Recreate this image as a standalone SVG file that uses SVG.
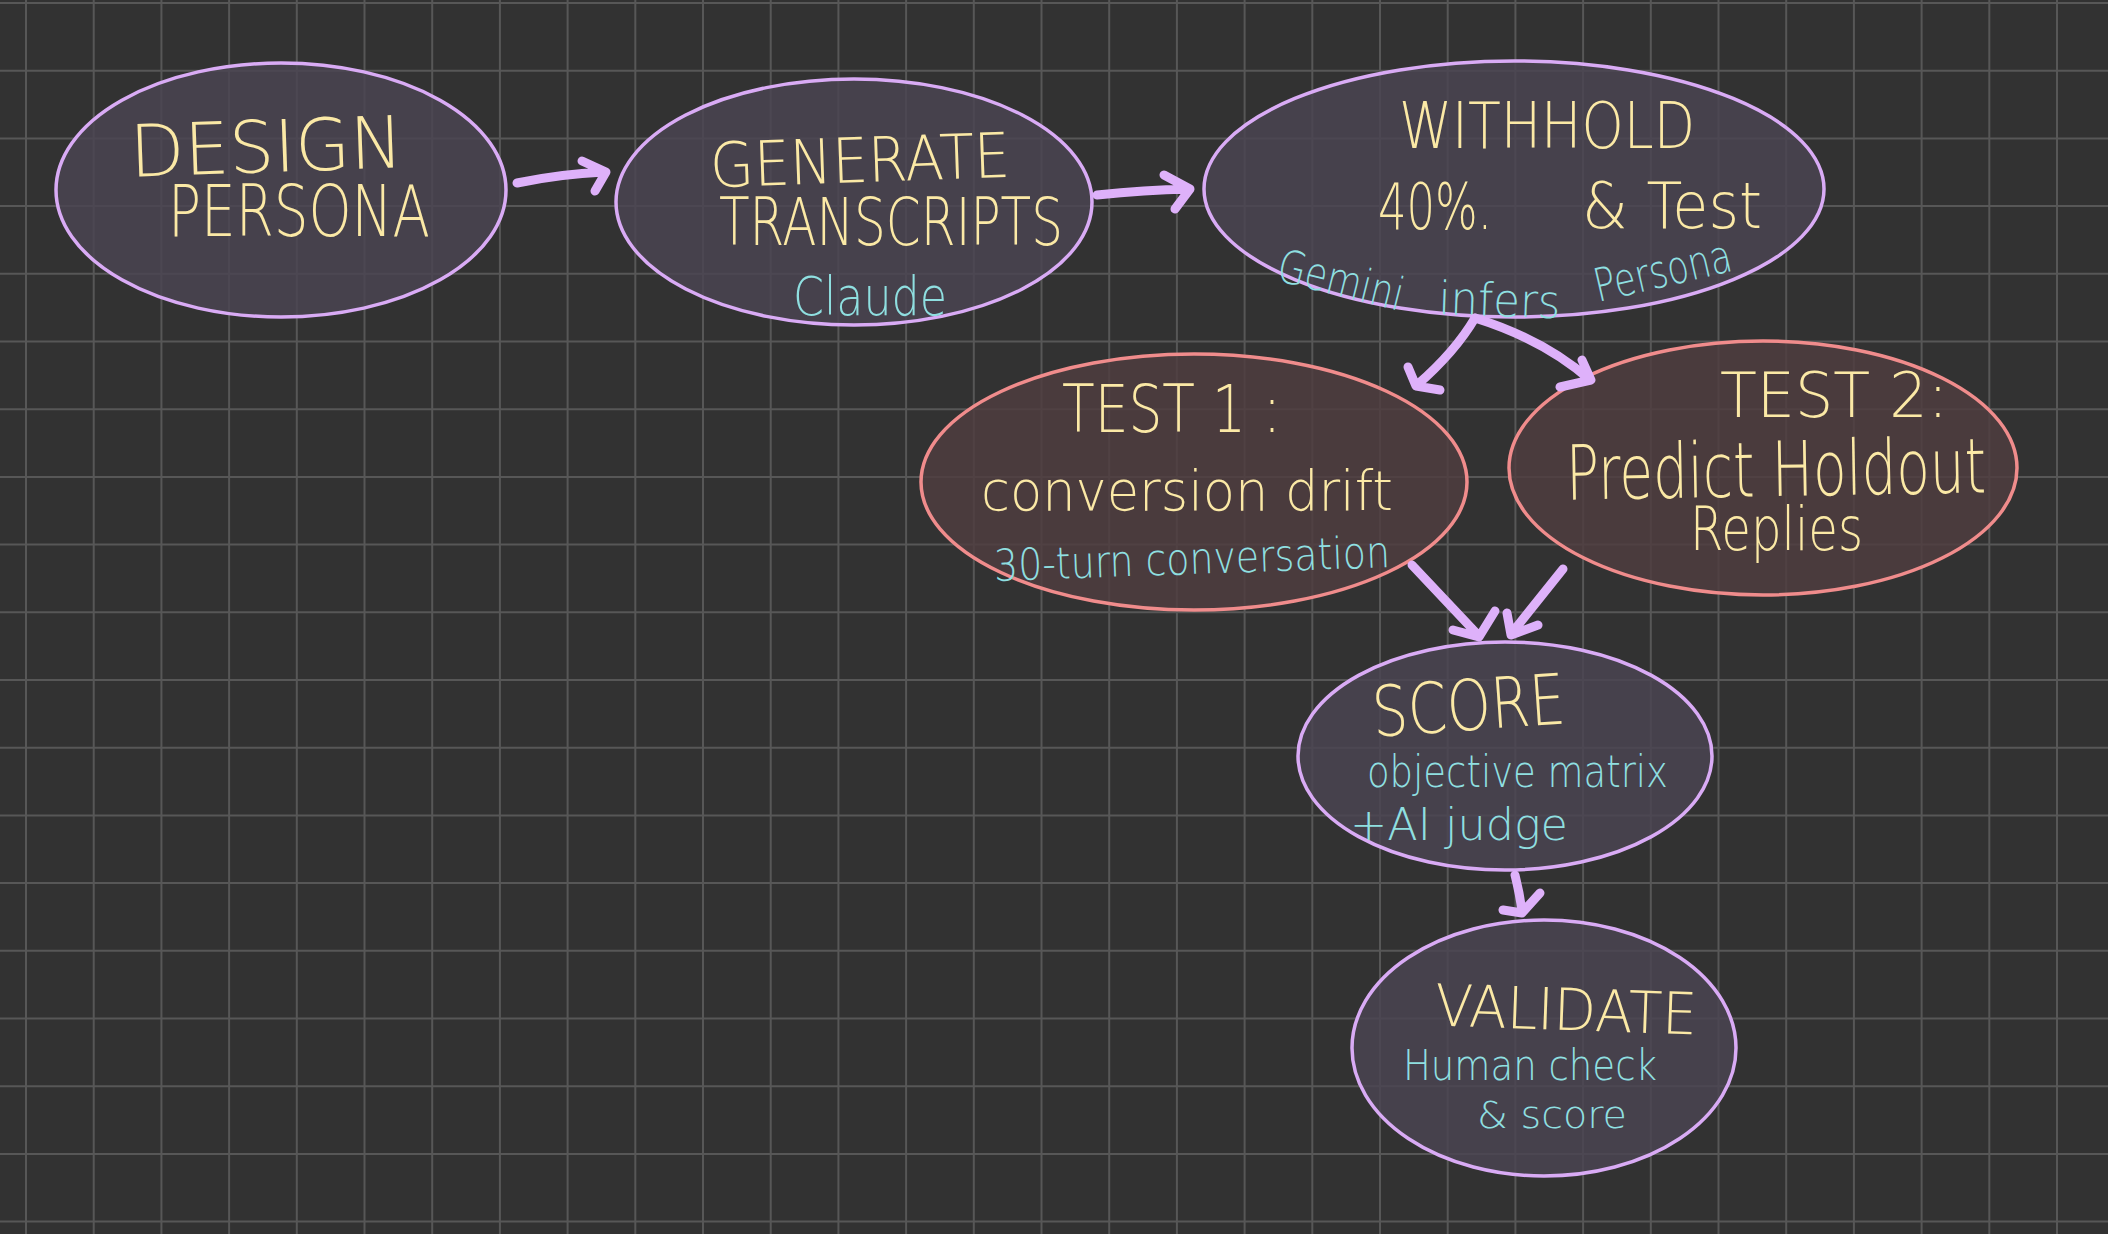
<svg xmlns="http://www.w3.org/2000/svg" width="2108" height="1234" viewBox="0 0 2108 1234">
<style>
.grid{stroke:#575757;stroke-width:2;fill:none}
.np{fill:#4a4452;fill-opacity:0.82;stroke:#d9abf5;stroke-width:3.5}
.nt{fill:#4f3d3f;fill-opacity:0.85;stroke:#f08c8c;stroke-width:3.5}
.con{stroke:#deb1fa;stroke-width:9;fill:none;stroke-linecap:round;stroke-linejoin:round}
.y{fill:#fbe9a6;font-family:"DejaVu Sans","Liberation Sans",sans-serif;font-weight:200}
.c{fill:#8fdfe0;font-family:"DejaVu Sans","Liberation Sans",sans-serif;font-weight:200}
</style>
<rect width="2108" height="1234" fill="#323232"/>
<path class="grid" d="M26 0V1234M93.7 0V1234M161.4 0V1234M229.1 0V1234M296.8 0V1234M364.5 0V1234M432.2 0V1234M499.9 0V1234M567.6 0V1234M635.3 0V1234M703 0V1234M770.7 0V1234M838.4 0V1234M906.1 0V1234M973.8 0V1234M1041.5 0V1234M1109.2 0V1234M1176.9 0V1234M1244.6 0V1234M1312.3 0V1234M1380 0V1234M1447.7 0V1234M1515.4 0V1234M1583.1 0V1234M1650.8 0V1234M1718.5 0V1234M1786.2 0V1234M1853.9 0V1234M1921.6 0V1234M1989.3 0V1234M2057 0V1234M0 3H2108M0 70.7H2108M0 138.4H2108M0 206.1H2108M0 273.8H2108M0 341.5H2108M0 409.2H2108M0 476.9H2108M0 544.6H2108M0 612.3H2108M0 680H2108M0 747.7H2108M0 815.4H2108M0 883.1H2108M0 950.8H2108M0 1018.5H2108M0 1086.2H2108M0 1153.9H2108M0 1221.6H2108"/>

<g id="node-design">
<ellipse class="np" cx="281" cy="190" rx="225" ry="127"/>
<text class="y" x="130" y="172" font-size="72" textLength="273" lengthAdjust="spacingAndGlyphs" transform="rotate(-2 266 150)">DESIGN</text>
<text class="y" x="168" y="236" font-size="72" textLength="262" lengthAdjust="spacingAndGlyphs">PERSONA</text>
</g>

<g id="node-generate">
<ellipse class="np" cx="854" cy="202" rx="238" ry="123"/>
<text class="y" x="710" y="182" font-size="62" textLength="300" lengthAdjust="spacingAndGlyphs" transform="rotate(-2 860 160)">GENERATE</text>
<text class="y" x="719" y="245" font-size="66" textLength="344" lengthAdjust="spacingAndGlyphs">TRANSCRIPTS</text>
<text class="c" x="793" y="315" font-size="54" textLength="154" lengthAdjust="spacingAndGlyphs">Claude</text>
</g>

<g id="node-withhold">
<ellipse class="np" cx="1514" cy="189" rx="310" ry="128"/>
<text class="y" x="1399" y="148" font-size="64" textLength="296" lengthAdjust="spacingAndGlyphs">WITHHOLD</text>
<text class="y" x="1378" y="229" font-size="64" textLength="114" lengthAdjust="spacingAndGlyphs">40%.</text>
<text class="y" x="1582" y="228" font-size="64" textLength="180" lengthAdjust="spacingAndGlyphs">&amp; Test</text>
<text class="c" x="1275" y="280" font-size="46" textLength="128" lengthAdjust="spacingAndGlyphs" transform="rotate(14 1275 280)">Gemini</text>
<text class="c" x="1438" y="314" font-size="46" textLength="122" lengthAdjust="spacingAndGlyphs" transform="rotate(2 1438 314)">infers</text>
<text class="c" x="1598" y="302" font-size="46" textLength="140" lengthAdjust="spacingAndGlyphs" transform="rotate(-13 1598 302)">Persona</text>
</g>

<g id="node-test1">
<ellipse class="nt" cx="1194" cy="482" rx="273" ry="128"/>
<text class="y" x="1062" y="432" font-size="66" textLength="219" lengthAdjust="spacingAndGlyphs">TEST 1 :</text>
<text class="y" x="981" y="510" font-size="56" textLength="412" lengthAdjust="spacingAndGlyphs">conversion  drift</text>
<text class="c" x="994" y="574" font-size="44" textLength="396" lengthAdjust="spacingAndGlyphs" transform="rotate(-2 1192 560)">30-turn conversation</text>
</g>

<g id="node-test2">
<ellipse class="nt" cx="1763" cy="468" rx="254" ry="127"/>
<text class="y" x="1720" y="417" font-size="62" textLength="228" lengthAdjust="spacingAndGlyphs">TEST 2:</text>
<text class="y" x="1566" y="496" font-size="76" textLength="420" lengthAdjust="spacingAndGlyphs" transform="rotate(-1 1776 472)">Predict  Holdout</text>
<text class="y" x="1690" y="550" font-size="60" textLength="173" lengthAdjust="spacingAndGlyphs">Replies</text>
</g>

<g id="node-score">
<ellipse class="np" cx="1505" cy="756" rx="207" ry="114"/>
<text class="y" x="1372" y="730" font-size="70" textLength="193" lengthAdjust="spacingAndGlyphs" transform="rotate(-4 1468 705)">SCORE</text>
<text class="c" x="1367" y="787" font-size="44" textLength="301" lengthAdjust="spacingAndGlyphs">objective matrix</text>
<text class="c" x="1350" y="840" font-size="44" textLength="218" lengthAdjust="spacingAndGlyphs">+AI judge</text>
</g>

<g id="node-validate">
<ellipse class="np" cx="1544" cy="1048" rx="192" ry="128"/>
<text class="y" x="1435" y="1030" font-size="58" textLength="262" lengthAdjust="spacingAndGlyphs" transform="rotate(2 1566 1010)">VALIDATE</text>
<text class="c" x="1403" y="1080" font-size="42" textLength="254" lengthAdjust="spacingAndGlyphs">Human check</text>
<text class="c" x="1477" y="1128" font-size="38" textLength="150" lengthAdjust="spacingAndGlyphs">&amp; score</text>
</g>

<g id="connectors">
<path class="con" d="M517 183 Q560 174 604 172 M582 161 L606 172 L595 191"/>
<path class="con" d="M1097 195 Q1145 190 1188 189 M1164 175 L1190 189 L1175 209"/>
<path class="con" d="M1475 318 Q1455 352 1417 385 M1408 367 L1416 386 L1440 390"/>
<path class="con" d="M1475 318 Q1545 340 1590 380 M1582 360 L1591 380 L1560 387"/>
<path class="con" d="M1412 565 L1479 636 M1453 630 L1479 637 L1495 611"/>
<path class="con" d="M1563 569 L1511 634 M1507 613 L1511 635 L1538 625"/>
<path class="con" d="M1515 875 Q1520 895 1522 912 M1503 910 L1522 913 L1540 893"/>
</g>
</svg>
